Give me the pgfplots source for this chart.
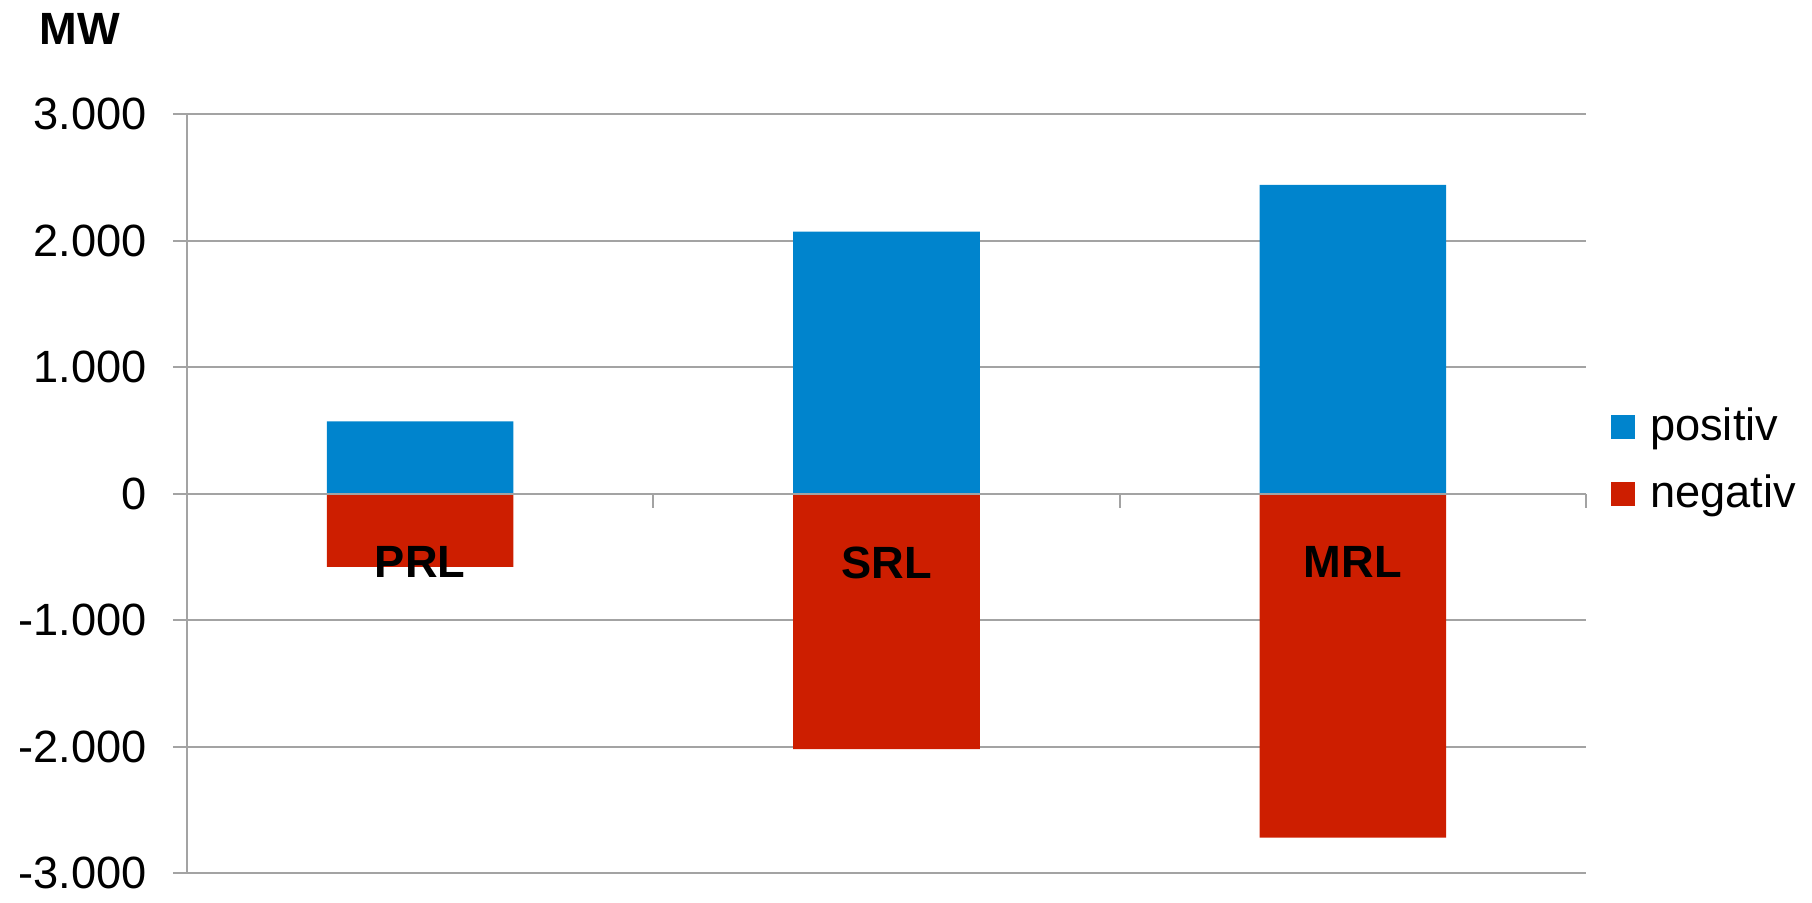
\documentclass[border=0pt]{standalone}
\usepackage{pgfplots}
\pgfplotsset{compat=1.18}
\usepackage{fontspec}
\setmainfont{Liberation Sans}
\definecolor{posblue}{HTML}{0084CD}
\definecolor{negred}{HTML}{CD1E00}
\definecolor{gridgray}{HTML}{A3A3A3}
% grid behind the bars, axis lines, ticks and tick labels in front
\pgfplotsset{
    layers/gridback/.define layer set={
        axis background,axis grid,main,axis ticks,axis lines,axis tick labels,axis descriptions,axis foreground
    }{
        grid style={/pgfplots/on layer=axis grid},
        tick style={/pgfplots/on layer=axis ticks},
        axis line style={/pgfplots/on layer=axis lines},
        label style={/pgfplots/on layer=axis descriptions},
        legend style={/pgfplots/on layer=axis descriptions},
        title style={/pgfplots/on layer=axis descriptions},
        ticklabel style={/pgfplots/on layer=axis tick labels},
        axis background@ style={/pgfplots/on layer=axis background},
    },
}
\begin{document}
\begin{tikzpicture}
\begin{axis}[
    name=ax,
    set layers=gridback,
    scale only axis,
    width=349.75pt, height=189.75pt,
    xmin=-0.5, xmax=2.5,
    ymin=-3000, ymax=3000,
    axis y line=left,
    axis x line=middle,
    axis line style={-, draw=gridgray, line width=0.5pt},
    ybar,
    bar width=0.4,
    ytick={-3000,-2000,-1000,0,1000,2000,3000},
    yticklabels={-3.000,-2.000,-1.000,0,1.000,2.000,3.000},
    xtick={0,1,2},
    xticklabels={PRL,SRL,MRL},
    minor xtick={0.5,1.5,2.5},
    tick align=outside,
    major tick length=3.5pt,
    minor tick length=3.5pt,
    major x tick style={draw=none},
    minor x tick style={draw=gridgray, line width=0.5pt},
    ytick style={draw=gridgray, line width=0.5pt},
    ymajorgrids,
    grid style={draw=gridgray, line width=0.5pt},
    tick label style={font=\fontsize{11.3}{13}\selectfont},
    xticklabel style={font=\fontsize{11.3}{13}\selectfont\bfseries, yshift=-6.3pt},
    yticklabel style={xshift=-3pt},
    clip=false,
    legend style={draw=none, at={(1.017,0.543)}, anchor=west,
        font=\fontsize{11.3}{13}\selectfont, inner sep=0pt,
        row sep=3pt, cells={anchor=west}},
    legend image code/.code={\fill[#1] (0pt,-3pt) rectangle (6pt,3pt);},
]
\addplot[fill=posblue, draw=none, bar shift=0pt] coordinates {(0,570) (1,2070) (2,2440)};
\addplot[fill=negred, draw=none, bar shift=0pt] coordinates {(0,-580) (1,-2020) (2,-2720)};
\legend{\,positiv,\,negativ}
\end{axis}
\node[font=\fontsize{11.3}{13}\selectfont\bfseries] at ([shift={(-26.75pt,211pt)}]ax.south west) {MW};
\path ([shift={(-46.75pt,-5.75pt)}]ax.south west) rectangle ++(453pt,224pt);
\end{tikzpicture}
\end{document}
